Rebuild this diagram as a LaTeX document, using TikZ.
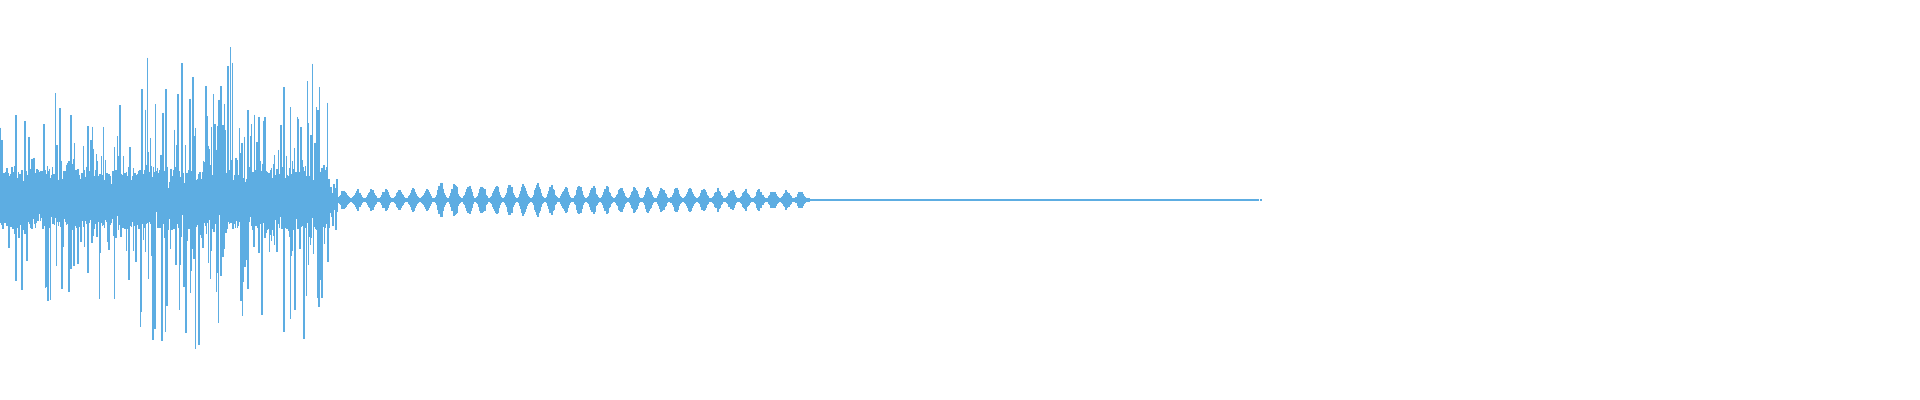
\documentclass[tikz,border=0pt]{standalone}
\definecolor{wave}{RGB}{93,173,226}
\begin{document}
\begin{tikzpicture}[x=0.01cm,y=0.01cm]
\useasboundingbox (0,0) rectangle (1920,400);
\pgfmathsetseed{11}
\begin{scope}[wave,line width=0.3pt]
\foreach \i in {0,...,674}{
  \pgfmathsetmacro\x{\i*0.5}
  \pgfmathsetmacro\env{\x<330?1:0.4}
  \pgfmathsetmacro\up{(10+20*rnd+ (\x>140?125:80)*rnd^9)*\env}
  \pgfmathsetmacro\dn{(10+20*rnd+ (\x>140?125:80)*rnd^9)*\env}
  \draw (\x,200+\up) -- (\x,200-\dn);
}
\foreach \i in {0,...,472}{
  \pgfmathsetmacro\x{337+\i}
  \pgfmathsetmacro\b{abs(sin(\i*13))^3}
  \pgfmathsetmacro\amp{(2+(\i<100?10:20-\i*0.025)*\b*(0.6+0.4*rnd))}
  \draw (\x,200+\amp) -- (\x,200-\amp);
}
\draw[line width=0.3pt] (809,200) -- (1259,200);
\foreach \i in {0,...,90}{
  \pgfmathsetmacro\x{810+\i*5}
  \draw[line width=0.6pt] (\x,200) -- (\x+1.5,200);
}
\end{scope}
\end{tikzpicture}
\end{document}
